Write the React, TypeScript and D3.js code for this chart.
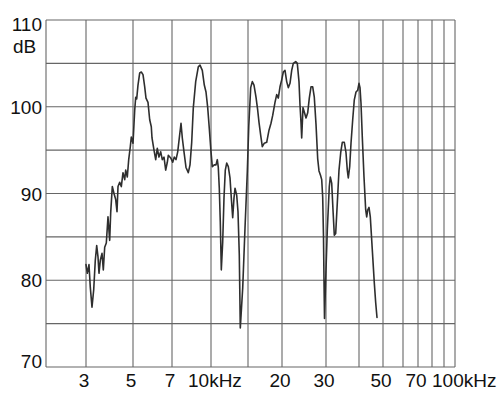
import React from "react";
import * as d3 from "d3";

const freqKHz = [
  3.0, 3.043, 3.099, 3.143, 3.202, 3.262, 3.319, 3.37, 3.418, 3.455, 3.505, 3.57, 3.621, 3.676, 3.741, 3.81,
  3.881, 3.924, 3.993, 4.067, 4.143, 4.202, 4.248, 4.327, 4.403, 4.485, 4.569, 4.619, 4.7, 4.772, 4.856, 4.909,
  5.0, 5.074, 5.118, 5.162, 5.22, 5.298, 5.371, 5.451, 5.531, 5.593, 5.691, 5.775, 5.855, 5.891, 5.993, 6.082,
  6.166, 6.257, 6.35, 6.438, 6.533, 6.63, 6.722, 6.78, 6.922, 7.045, 7.149, 7.261, 7.375, 7.483, 7.601, 7.692,
  7.812, 7.956, 8.126, 8.253, 8.382, 8.506, 8.694, 8.903, 9.043, 9.235, 9.406, 9.553, 9.703, 9.846, 10.0, 10.144,
  10.368, 10.563, 10.715, 10.833, 10.952, 11.073, 11.195, 11.368, 11.531, 11.697, 11.878, 12.088, 12.315, 12.492,
  12.685, 12.867, 13.009, 13.253, 13.443, 13.636, 13.786, 14.154, 14.515, 14.886, 15.1, 15.347, 15.556, 15.781,
  16.05, 16.283, 16.463, 16.702, 16.929, 17.218, 17.571, 17.917, 18.222, 18.486, 18.849, 19.122, 19.383, 19.664,
  19.949, 20.241, 20.561, 20.885, 21.196, 21.53, 21.87, 22.195, 22.691, 23.028, 23.391, 23.608, 23.827, 23.981,
  24.27, 24.563, 24.951, 25.345, 25.721, 26.127, 26.54, 26.934, 27.359, 27.791, 28.126, 28.517, 28.835, 29.101,
  29.316, 29.452, 29.588, 30.0, 30.342, 30.876, 31.146, 31.528, 31.888, 32.251, 32.647, 33.106, 33.6, 34.102,
  34.581, 35.189, 35.715, 36.122, 36.438, 36.886, 37.306, 37.863, 38.395, 38.968, 39.55, 40.0, 40.373, 40.751,
  41.247, 41.904, 42.571, 42.969, 43.37, 43.897, 44.431, 45.265, 46.115, 46.719, 47.287,
];

const levelDB = [
  81.8, 80.8, 81.8, 79.2, 76.9, 78.9, 82.3, 84.0, 82.7, 80.8, 82.3, 83.1, 81.2, 83.8, 84.3, 87.3,
  84.6, 87.8, 90.8, 90.0, 89.3, 87.9, 90.8, 91.3, 90.8, 92.4, 91.6, 92.7, 91.9, 93.9, 95.4, 96.5,
  95.8, 99.6, 101.1, 100.9, 102.5, 103.9, 104.0, 103.7, 102.3, 101.0, 100.5, 98.5, 97.7, 96.4, 95.0, 93.9,
  95.2, 94.2, 94.8, 93.9, 94.2, 92.7, 93.6, 94.4, 94.1, 93.6, 94.2, 93.9, 94.8, 96.4, 98.1, 96.4,
  94.8, 93.0, 92.4, 93.3, 95.9, 99.9, 102.9, 104.6, 104.8, 104.2, 102.5, 101.7, 99.9, 97.5, 94.8, 93.1,
  93.3, 93.3, 93.9, 93.0, 90.6, 86.7, 81.2, 84.4, 89.5, 92.7, 93.5, 93.1, 91.8, 89.5,
  87.2, 89.5, 90.6, 89.8, 87.9, 82.9, 74.5, 79.1, 86.0, 92.5, 97.8, 102.2, 102.9, 102.5,
  101.1, 99.6, 98.2, 96.7, 95.4, 95.8, 95.9, 97.3, 98.1, 99.0, 100.5, 101.4, 101.0, 102.3,
  103.1, 104.0, 104.2, 102.9, 102.2, 102.7, 104.2, 105.0, 105.2, 105.0, 102.9, 100.2, 98.2, 96.4,
  99.9, 99.4, 98.7, 99.3, 101.0, 102.3, 102.3, 101.1, 98.0, 94.0, 92.6, 92.1, 91.6, 89.6,
  85.0, 80.0, 75.6, 81.2, 85.8, 90.8, 91.9, 91.2, 88.1, 85.2, 85.4, 88.9, 92.7, 94.7,
  95.9, 95.9, 94.7, 92.7, 91.8, 93.1, 95.8, 98.5, 100.8, 101.7, 101.9, 102.7, 102.2, 100.4,
  96.5, 91.9, 88.1, 87.3, 88.1, 88.4, 87.3, 83.5, 79.7, 77.4, 75.7,
];

const xGrid = [2, 3, 5, 7, 10, 15, 20, 30, 40, 50, 60, 70, 80, 90, 100];
const xLabels = ["", "3", "5", "7", "10kHz", "", "20", "30", "", "50", "", "70", "", "", "100kHz"];
const yGrid = [70, 75, 80, 85, 90, 95, 100, 105, 110];
const yLabels = [70, 80, 90, 100, 110];
const yUnit = "dB";

const W = 497;
const H = 405;

export default function App() {
  // the printed grid is not perfectly logarithmic; piecewise log scale follows it
  const x = d3
    .scaleLog()
    .domain(xGrid)
    .range([46, 86, 133, 172, 211, 248, 282, 326, 359, 383, 403, 418, 432, 444, 455]);
  const y = d3.scaleLinear().domain([70, 110]).range([367, 20]);

  const line = d3
    .line<number>()
    .x((_, i) => x(freqKHz[i]))
    .y((d) => y(d))
    .curve(d3.curveLinear);

  const font = "'Liberation Sans', Arial, sans-serif";
  const gridColor = "#666";

  return (
    <svg
      width={W}
      height={H}
      style={{ position: "absolute", left: 0, top: 0, background: "#fff" }}
    >
      <rect x={0} y={0} width={W} height={H} fill="#fff" />
      {yGrid.map((v) => (
        <line
          key={"h" + v}
          x1={x(2)}
          x2={x(100)}
          y1={y(v)}
          y2={y(v)}
          stroke={gridColor}
          strokeWidth={1.1}
        />
      ))}
      {xGrid.map((v) => (
        <line
          key={"v" + v}
          x1={x(v)}
          x2={x(v)}
          y1={y(70)}
          y2={y(110)}
          stroke={gridColor}
          strokeWidth={1.1}
        />
      ))}
      <path
        d={line(levelDB) || ""}
        fill="none"
        stroke="#2e2e2e"
        strokeWidth={1.6}
        strokeLinejoin="round"
        strokeLinecap="round"
      />
      {yLabels.map((v) => (
        <text
          key={"yl" + v}
          x={42}
          y={Math.min(368, Math.max(31, y(v) + 7))}
          textAnchor="end"
          fontFamily={font}
          fontSize={19}
          fill="#111"
        >
          {v}
        </text>
      ))}
      <text x={13} y={53} fontFamily={font} fontSize={19} fill="#111">
        {yUnit}
      </text>
      {xGrid.map((v, i) =>
        xLabels[i] === "" ? null : xLabels[i].includes("kHz") ? (
          <text
            key={"xl" + v}
            x={x(v) - 23}
            y={387}
            textAnchor="start"
            fontFamily={font}
            fontSize={19}
            fill="#111"
          >
            {xLabels[i]}
          </text>
        ) : (
          <text
            key={"xl" + v}
            x={x(v) - 2}
            y={387}
            textAnchor="middle"
            fontFamily={font}
            fontSize={19}
            fill="#111"
          >
            {xLabels[i]}
          </text>
        )
      )}
    </svg>
  );
}
